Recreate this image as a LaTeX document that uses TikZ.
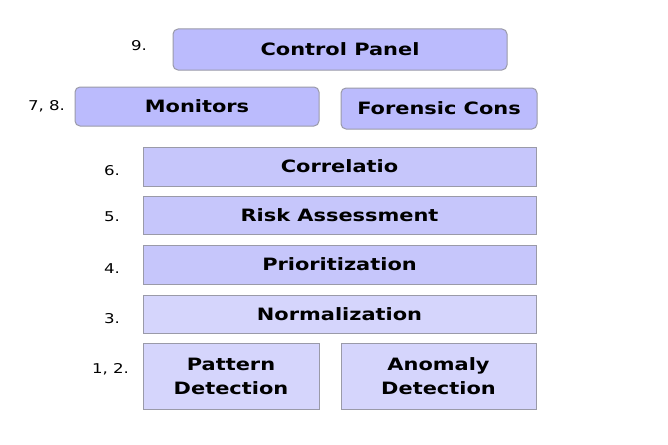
\documentclass[tikz,border=0pt]{standalone}
\usepackage{fontspec}
\setmainfont{DejaVu Sans}[FakeStretch=1.23]
\definecolor{boxtop}{HTML}{BBBBFD}
\definecolor{boxmid}{HTML}{C6C6FB}
\definecolor{boxlow}{HTML}{D5D5FC}
\definecolor{boxline}{HTML}{9A9AA8}
\begin{document}
\begin{tikzpicture}[x=1pt,y=-1pt]
		\tikzstyle{every node}+=[inner sep=0pt]
		\tikzstyle{layer}=[draw=boxline, line width=1pt, font=\bfseries\fontsize{17}{24}\selectfont, align=center]
		\tikzstyle{stepnum}=[font=\fontsize{13.5}{16}\selectfont]
		\fill [white] (0,0) rectangle (668,444);
		\node [layer, rounded corners=5pt, fill=boxtop, minimum width=334pt, minimum height=41pt] (panel) at (340,49.5) {Control Panel};
		\node [layer, rounded corners=5pt, fill=boxtop, minimum width=244pt, minimum height=39pt] (monitors) at (197,106.5) {Monitors};
		\node [layer, rounded corners=5pt, fill=boxtop, minimum width=196pt, minimum height=41pt] (forensic) at (439,108.5) {Forensic Cons};
		\node [layer, fill=boxmid, minimum width=393pt, minimum height=39pt] (correl) at (339.5,166.5) {Correlatio};
		\node [layer, fill=boxmid, minimum width=393pt, minimum height=38pt] (risk) at (339.5,215) {Risk Assessment};
		\node [layer, fill=boxmid, minimum width=393pt, minimum height=39pt] (prior) at (339.5,264.5) {Prioritization};
		\node [layer, fill=boxlow, minimum width=393pt, minimum height=38pt] (norm) at (339.5,314) {Normalization};
		\node [layer, fill=boxlow, minimum width=176pt, minimum height=66pt] (pattern) at (231,376) {Pattern\\Detection};
		\node [layer, fill=boxlow, minimum width=195pt, minimum height=66pt] (anomaly) at (438.5,376) {Anomaly\\Detection};
		\node [stepnum] (n9) at (139,46) {9.};
		\node [stepnum] (n78) at (46.5,106) {7, 8.};
		\node [stepnum] (n6) at (112,171) {6.};
		\node [stepnum] (n5) at (112,217) {5.};
		\node [stepnum] (n4) at (112,269) {4.};
		\node [stepnum] (n3) at (112,319) {3.};
		\node [stepnum] (n12) at (110.5,369) {1, 2.};
	\end{tikzpicture}
\end{document}
